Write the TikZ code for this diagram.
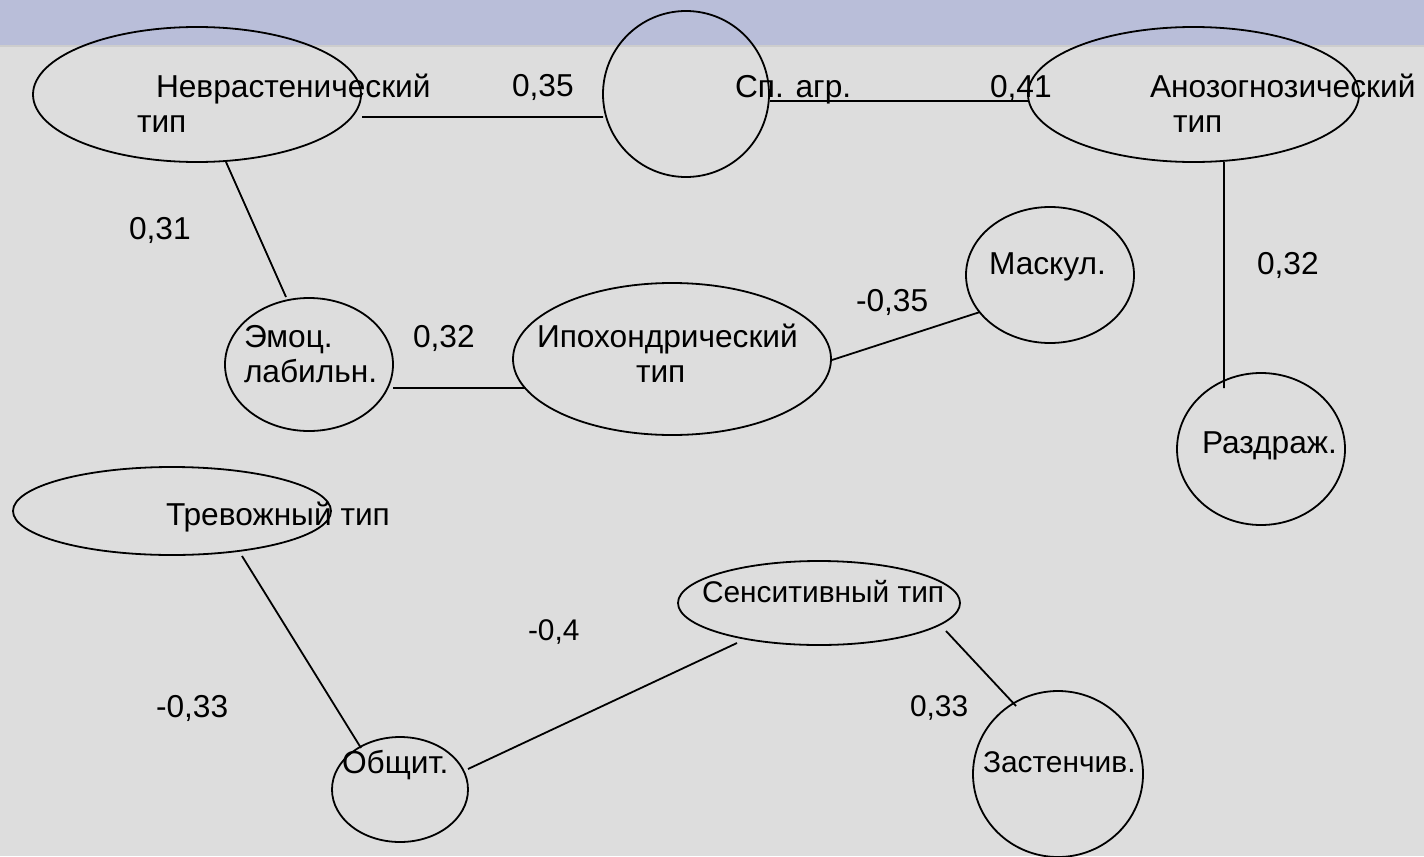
\documentclass[tikz,border=0pt]{standalone}
\usepackage{fontspec}
\setmainfont{Liberation Sans}
\usetikzlibrary{shapes.geometric}
\definecolor{bandcol}{HTML}{B9BED9}
\definecolor{paper}{HTML}{DDDDDD}
\definecolor{seam}{HTML}{CDCDCD}
\begin{document}
\begin{tikzpicture}[x=1bp,y=-1bp,
  oval/.style={ellipse,draw=black,line width=1.8bp,inner sep=0pt,outer sep=0pt},
  txt/.style={anchor=base west,inner sep=0pt,outer sep=0pt,text=black,
    font=\fontsize{31.8}{38}\selectfont},
  smalltxt/.style={txt,font=\fontsize{30}{36}\selectfont},
  link/.style={draw=black,line width=1.8bp}]
  % page background and title band
  \useasboundingbox (0,0) rectangle (1424,856);
  \fill[paper] (0,0) rectangle (1424,856);
  \fill[bandcol] (0,0) rectangle (1424,45);
  \fill[seam] (0,45) rectangle (1424,47);

  % ovals
  \node[oval,minimum width=328bp,minimum height=135bp] (nevr) at (197,94.5) {};
  \node[oval,minimum width=166bp,minimum height=166bp] (spagr) at (686,94) {};
  \node[oval,minimum width=331bp,minimum height=135bp] (anoz) at (1193.5,94.5) {};
  \node[oval,minimum width=168bp,minimum height=133bp] (emoc) at (309,364.5) {};
  \node[oval,minimum width=318bp,minimum height=152bp] (ipoh) at (672,359) {};
  \node[oval,minimum width=168bp,minimum height=136bp] (mask) at (1050,275) {};
  \node[oval,minimum width=168bp,minimum height=152bp] (razd) at (1261,449) {};
  \node[oval,minimum width=318bp,minimum height=88bp] (trev) at (172,511) {};
  \node[oval,minimum width=282bp,minimum height=84bp] (sens) at (819,603) {};
  \node[oval,minimum width=136bp,minimum height=105bp] (obsh) at (400,789.5) {};
  \node[oval,minimum width=170bp,minimum height=166bp] (zast) at (1058,774) {};

  % node captions
  \node[txt] (nevrA) at (156,97) {Неврастенический};
  \node[txt] (nevrB) at (137,132) {тип};
  \node[txt] (spagrA) at (735,97) {Сп. агр.};
  \node[txt] (anozA) at (1150,97) {Анозогнозический};
  \node[txt] (anozB) at (1173,132) {тип};
  \node[txt] (emocA) at (244,347) {Эмоц.};
  \node[txt] (emocB) at (244,382) {лабильн.};
  \node[txt] (ipohA) at (537,347) {Ипохондрический};
  \node[txt] (ipohB) at (636,382) {тип};
  \node[txt] (maskA) at (989,274) {Маскул.};
  \node[txt] (razdA) at (1202,453) {Раздраж.};
  \node[txt] (trevA) at (166,525) {Тревожный тип};
  \node[smalltxt] (sensA) at (702,602) {Сенситивный тип};
  \node[txt] (obshA) at (342,773) {Общит.};
  \node[smalltxt] (zastA) at (983,772) {Застенчив.};

  % connectors
  \draw[link] ([shift={(165,22.5)}]nevr.center) -- ([shift={(-83,23)}]spagr.center);
  \draw[link] ([shift={(84,7)}]spagr.center) -- ([shift={(-165.5,6.5)}]anoz.center);
  \draw[link] ([shift={(29,67.5)}]nevr.center) -- ([shift={(-23,-67.5)}]emoc.center);
  \draw[link] ([shift={(84,23.5)}]emoc.center) -- ([shift={(-147,29)}]ipoh.center);
  \draw[link] ([shift={(160,1)}]ipoh.center) -- ([shift={(-70,37)}]mask.center);
  \draw[link] ([shift={(30.5,67.5)}]anoz.center) -- ([shift={(-37,-61)}]razd.center);
  \draw[link] ([shift={(70,45)}]trev.center) -- ([shift={(-39,-41.5)}]obsh.center);
  \draw[link] ([shift={(68,-20.5)}]obsh.center) -- ([shift={(-82,40)}]sens.center);
  \draw[link] ([shift={(127,28)}]sens.center) -- ([shift={(-42,-68)}]zast.center);

  % correlation values
  \node[txt] (w1) at (512,96) {0,35};
  \node[txt] (w2) at (990,97) {0,41};
  \node[txt] (w3) at (129,239) {0,31};
  \node[txt] (w4) at (413,347) {0,32};
  \node[txt] (w5) at (856,311) {-0,35};
  \node[txt] (w6) at (1257,274) {0,32};
  \node[txt] (w7) at (156,717) {-0,33};
  \node[smalltxt] (w8) at (528,640) {-0,4};
  \node[smalltxt] (w9) at (910,716) {0,33};
\end{tikzpicture}
\end{document}
